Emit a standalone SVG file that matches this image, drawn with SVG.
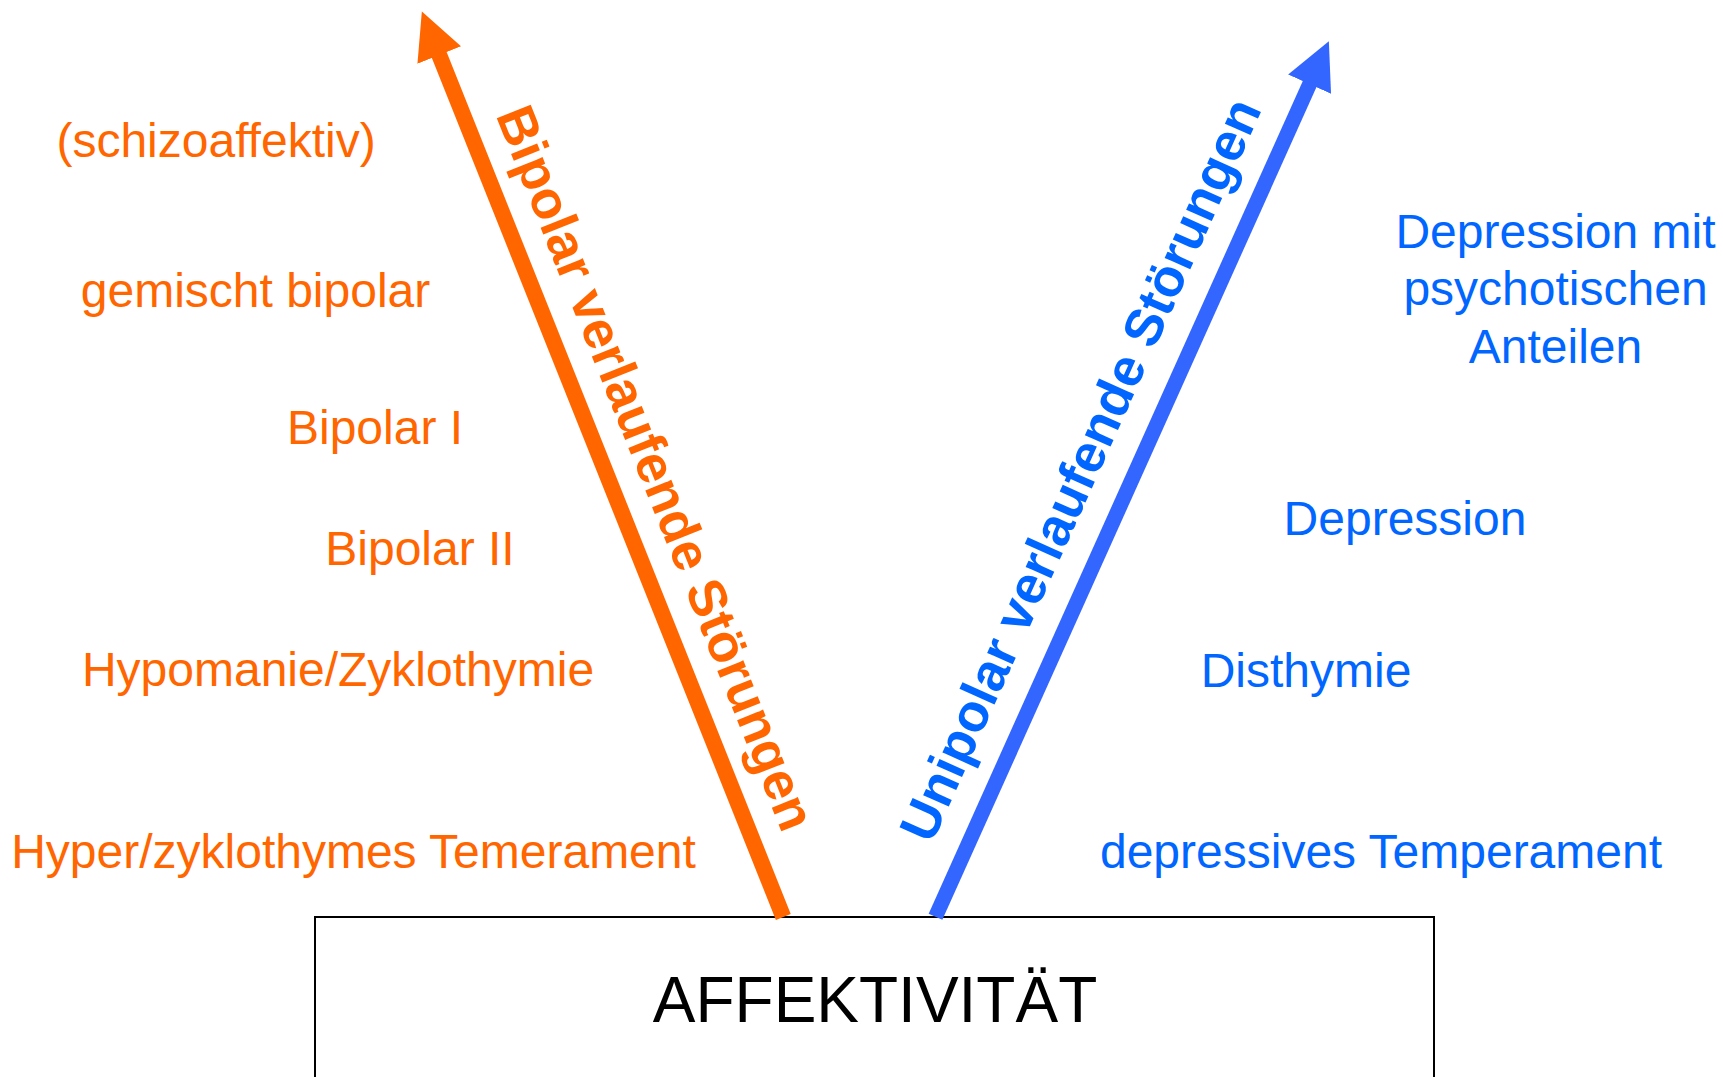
<svg xmlns="http://www.w3.org/2000/svg" width="1723" height="1077" viewBox="0 0 1723 1077">
  <style>
    text { font-family: "Liberation Sans", Arial, sans-serif; }
    .lbl { font-size: 48px; text-anchor: middle; }
    .or { fill: #FF6600; }
    .bl { fill: #0066FF; }
    .axis { font-size: 53px; font-weight: bold; }
    .box { fill: #FFFFFF; stroke: #000000; stroke-width: 2; }
  </style>
  <defs>
    <marker id="headOrange" markerUnits="userSpaceOnUse" viewBox="0 -24 48 48" markerWidth="48" markerHeight="48" refX="1" refY="0" orient="auto">
      <path d="M0,-23.5 L47,0 L0,23.5 Z" fill="#FF6600"/>
    </marker>
    <marker id="headBlue" markerUnits="userSpaceOnUse" viewBox="0 -24 48 48" markerWidth="48" markerHeight="48" refX="1" refY="0" orient="auto">
      <path d="M0,-23.5 L47,0 L0,23.5 Z" fill="#3366FF"/>
    </marker>
  </defs>

  <g id="affektivitaet">
    <rect class="box" x="315" y="917" width="1119" height="200"/>
    <text x="875" y="1022" style="font-size:64px" text-anchor="middle" fill="#000000">AFFEKTIVITÄT</text>
  </g>

  <g id="connectors">
    <line x1="783.3" y1="917" x2="438.9" y2="54.1" stroke="#FF6600" stroke-width="16" marker-end="url(#headOrange)"/>
    <line x1="935.5" y1="916.7" x2="1310" y2="83.3" stroke="#3366FF" stroke-width="15" marker-end="url(#headBlue)"/>
  </g>

  <g id="label-bipolar">
    <text class="axis or" transform="translate(495.5,115) rotate(68.24)">Bipolar verlaufende Störungen</text>
  </g>
  <g id="label-unipolar">
    <text class="axis bl" transform="translate(931.5,845) rotate(-65.8)">Unipolar verlaufende Störungen</text>
  </g>

  <g id="schizoaffektiv"><text class="lbl or" x="216" y="157">(schizoaffektiv)</text></g>
  <g id="gemischt-bipolar"><text class="lbl or" x="255.5" y="307">gemischt bipolar</text></g>
  <g id="bipolar-1"><text class="lbl or" x="375" y="444">Bipolar I</text></g>
  <g id="bipolar-2"><text class="lbl or" x="420" y="565">Bipolar II</text></g>
  <g id="hypomanie"><text class="lbl or" x="338" y="686">Hypomanie/Zyklothymie</text></g>
  <g id="hyper-temperament"><text class="lbl or" x="353.5" y="868">Hyper/zyklothymes Temerament</text></g>

  <g id="depression-psychotisch">
    <text class="lbl bl" x="1555.5" y="248">Depression mit</text>
    <text class="lbl bl" x="1555.5" y="305">psychotischen</text>
    <text class="lbl bl" x="1555.5" y="363">Anteilen</text>
  </g>
  <g id="depression"><text class="lbl bl" x="1405" y="535">Depression</text></g>
  <g id="disthymie"><text class="lbl bl" x="1306" y="687">Disthymie</text></g>
  <g id="depressives-temperament"><text class="lbl bl" x="1381" y="868">depressives Temperament</text></g>
</svg>
